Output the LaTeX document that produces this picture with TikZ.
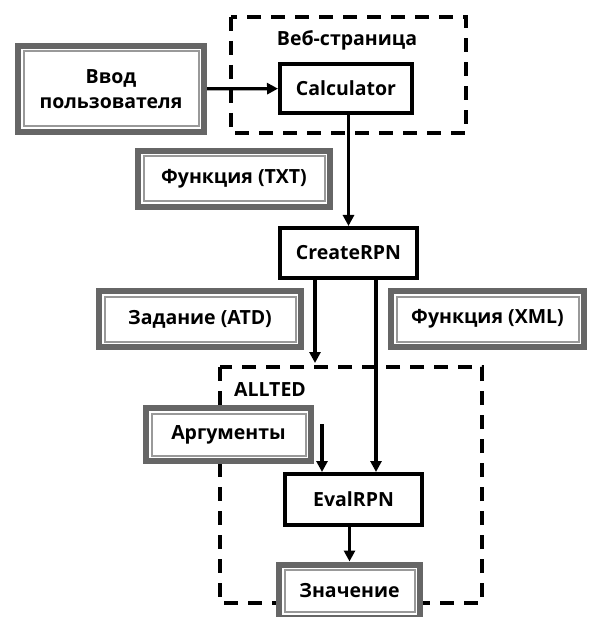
\documentclass[tikz,border=0pt]{standalone}
\usepackage{fontspec}
\setmainfont{Open Sans}
\usetikzlibrary{arrows.meta, positioning}
\tikzset{
  procbox/.style  = {draw, line width=4pt, fill=white, inner sep=0pt,
                     font=\fontsize{19.5}{25}\selectfont\bfseries, align=center},
  databox/.style  = {draw=black!60, line width=6pt, fill=white, inner sep=0pt,
                     font=\fontsize{19.5}{25}\selectfont\bfseries, align=center,
                     path picture={\draw[black!40, line width=2pt]
                       ([shift={(5.5pt,-5.5pt)}]path picture bounding box.north west) rectangle
                       ([shift={(-5.5pt,5.5pt)}]path picture bounding box.south east);}},
  groupbox/.style = {draw, line width=4pt, dash pattern=on 14pt off 10pt},
  grouplabel/.style = {font=\fontsize{19.5}{25}\selectfont\bfseries},
  flow/.style     = {-{Triangle[length=11pt,width=11pt]}, line width=3.3pt},
}

\begin{document}
\begin{tikzpicture}[x=1pt,y=-1pt]
    \useasboundingbox (0,0) rectangle (588,617);
    % --- groups -------------------------------------------------------
    \draw[groupbox] (231,17) rectangle (466,133);
    \node[grouplabel] (weblbl) at (347,40) {Веб-страница};
    \draw[groupbox] (220,367) rectangle (482,603);
    \node[grouplabel] (alltedlbl) at (270,390) {ALLTED};
    % --- processes ----------------------------------------------------
    \node[procbox, minimum width=132pt, minimum height=49pt] (calc)   at (346,88.5)   {Calculator};
    \node[procbox, minimum width=137pt, minimum height=50pt] (create) at (348.5,253)  {CreateRPN};
    \node[procbox, minimum width=137pt, minimum height=51pt] (eval)   at (353.5,499.5) {EvalRPN};
    % --- data ---------------------------------------------------------
    \node[databox, minimum width=186pt, minimum height=86pt] (input) at (111,89)    {Ввод\\пользователя};
    \node[databox, minimum width=192pt, minimum height=56pt] (ftxt)  at (234,179)   {Функция (TXT)};
    \node[databox, minimum width=202pt, minimum height=56pt] (task)  at (200,319)   {Задание (ATD)};
    \node[databox, minimum width=193pt, minimum height=56pt] (fxml)  at (487.5,319) {Функция (XML)};
    \node[databox, minimum width=165pt, minimum height=53pt] (args)  at (228.5,434.5) {Аргументы};
    \node[databox, minimum width=141pt, minimum height=53pt] (value) at (349.5,591) {Значение};
    % --- free ends ----------------------------------------------------
    \coordinate (alltop)  at (315,363);
    \coordinate (argtail) at (322,424);
    % --- edges --------------------------------------------------------
    \draw[flow] (input) -- (calc);
    \draw[flow] (calc.south -| create.north) -- (create.north);
    \draw[flow] (create.south -| alltop) -- (alltop);
    \draw[flow] ([xshift=27.5pt]create.south) -- ([xshift=27.5pt]create.south |- eval.north);
    \draw[flow] (argtail) -- (argtail |- eval.north);
    \draw[flow] (eval.south -| value.north) -- (value.north);
\end{tikzpicture}
\end{document}
